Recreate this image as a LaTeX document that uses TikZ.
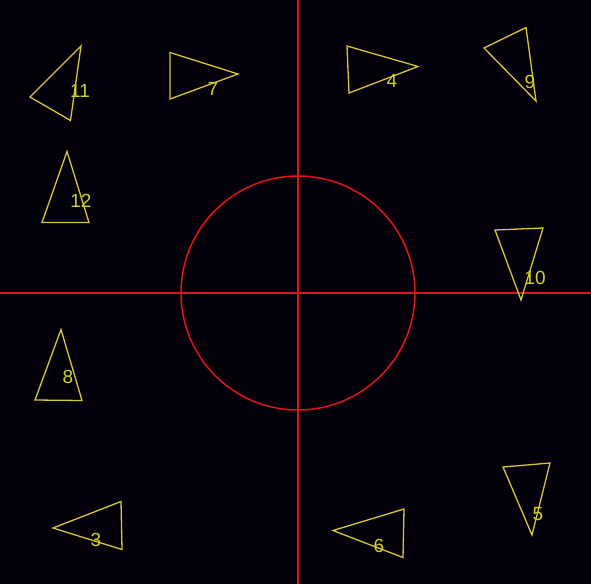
\documentclass[tikz,border=0pt]{standalone}
\usepackage{fontspec}
\setmainfont{Liberation Sans}
\definecolor{bg}{RGB}{4,0,10}
\definecolor{tri}{RGB}{212,200,55}
\definecolor{lbl}{RGB}{205,210,45}
\definecolor{axis}{RGB}{225,20,30}
\tikzset{
  trishape/.style={draw=tri, line width=1.3pt, line join=miter},
  lab/.style={text=lbl, font=\fontsize{19}{19}\selectfont, inner sep=0pt},
  redline/.style={draw=axis, line width=1.5pt}
}
\begin{document}
\begin{tikzpicture}[x=1pt,y=-1pt]
\fill[bg] (0,0) rectangle (591,584);
\useasboundingbox (0,0) rectangle (591,584);
% axes and circle
\coordinate (top) at (298,0);
\coordinate (bottom) at (298,584);
\coordinate (left) at (0,293);
\coordinate (right) at (591,293);
\coordinate (c) at (298,293);
\draw[redline] (top) -- (bottom);
\draw[redline] (left) -- (right);
\draw[redline] (c) circle[radius=117];
% triangles
\draw[trishape] (81,46) -- (30,97) -- (70.5,120.5) -- cycle;
\node[lab] (l11) at (80,91) {11};
\draw[trishape] (170,52.5) -- (238,74) -- (170,99) -- cycle;
\node[lab] (l7) at (213,88.5) {7};
\draw[trishape] (347,46) -- (418,66.5) -- (349,93) -- cycle;
\node[lab] (l4) at (392,80.5) {4};
\draw[trishape] (526,27.5) -- (484,48) -- (536,101) -- cycle;
\node[lab] (l9) at (530,82) {9};
\draw[trishape] (67,151.5) -- (42,222.5) -- (89,222.5) -- cycle;
\node[lab] (l12) at (81,201) {12};
\draw[trishape] (495,230) -- (543,228) -- (521,300) -- cycle;
\node[lab] (l10) at (535,278) {10};
\draw[trishape] (61,329.5) -- (35,400) -- (82,400.5) -- cycle;
\node[lab] (l8) at (68,377) {8};
\draw[trishape] (121,501.5) -- (53,528) -- (122,549.5) -- cycle;
\node[lab] (l3) at (96,540) {3};
\draw[trishape] (404,509) -- (333,530.5) -- (403,557.5) -- cycle;
\node[lab] (l6) at (379,546) {6};
\draw[trishape] (503,467) -- (550,463) -- (532,535) -- cycle;
\node[lab] (l5) at (538,514) {5};
\end{tikzpicture}
\end{document}
